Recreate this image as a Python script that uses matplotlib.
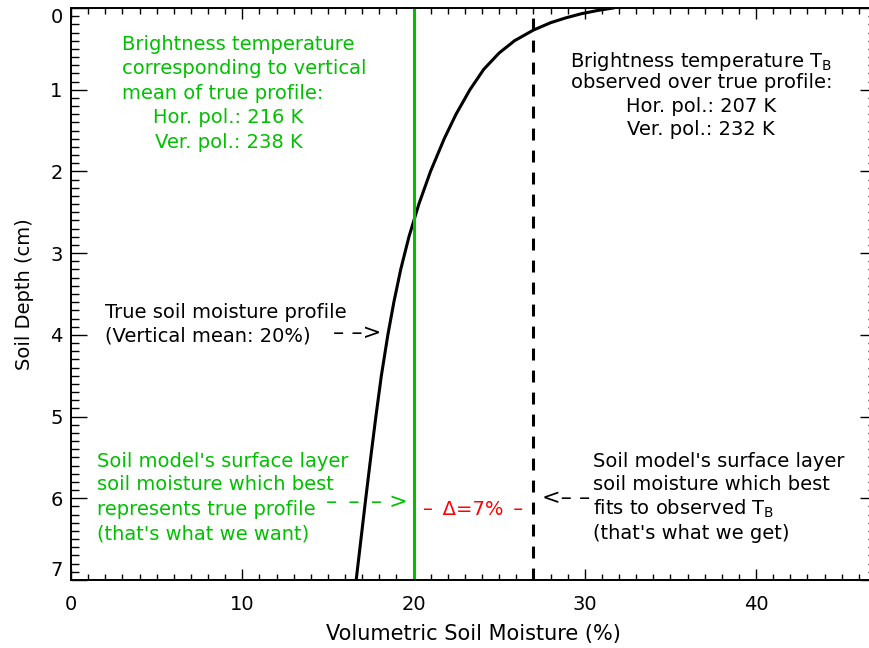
import matplotlib.pyplot as plt
from matplotlib.ticker import MultipleLocator

# true soil moisture profile (depth in cm, volumetric moisture in %)
depth = [0.0, 0.03, 0.07, 0.12, 0.18, 0.27, 0.4, 0.55, 0.75, 1.0, 1.3, 1.6,
         2.0, 2.4, 2.8, 3.2, 3.6, 4.0, 4.5, 5.0, 5.5, 6.0, 6.5, 7.0]
moisture = [31.65, 30.75, 29.8, 28.9, 28.0, 27.0, 25.9, 25.0, 24.1, 23.29, 22.48, 21.79,
            20.99, 20.31, 19.73, 19.25, 18.85, 18.5, 18.12, 17.8, 17.5, 17.21, 16.93, 16.65]

mean_moisture = 20      # vertical mean of the true profile
fitted_moisture = 27    # surface layer value that fits the observed TB
tb_mean = [216, 238]    # H / V pol. brightness temperature for the mean
tb_obs = [207, 232]     # H / V pol. observed over the true profile

x_ticks = [0, 10, 20, 30, 40]
y_ticks = [0, 1, 2, 3, 4, 5, 6, 7]

GREEN = '#00c000'
FS = 14

fig = plt.figure(figsize=(8.69, 6.48), dpi=100)
ax = fig.add_axes([71 / 869, 68 / 648, 805 / 869, 572 / 648])

ax.plot(moisture, depth, color='black', lw=2.2, solid_joinstyle='round')
ax.axvline(mean_moisture, color=GREEN, lw=2.2)
ax.axvline(fitted_moisture, color='black', lw=2.2, dashes=(3.9, 3.3))

ax.set_xlim(0, 47)
ax.set_ylim(7, 0)
ax.set_xticks(x_ticks)
ax.set_yticks(y_ticks)
ax.xaxis.set_minor_locator(MultipleLocator(1))
ax.yaxis.set_minor_locator(MultipleLocator(0.1))
ax.tick_params(which='both', direction='in', top=True, right=True, width=1.0,
               labelsize=FS)
ax.tick_params(axis='x', which='major', length=7.9, pad=11)
ax.tick_params(axis='x', which='minor', length=4.0)
ax.tick_params(axis='y', which='major', length=11.5, pad=6)
ax.tick_params(axis='y', which='minor', length=5.8)
for s in ax.spines.values():
    s.set_linewidth(1.4)

ylabels = ax.get_yticklabels()
ylabels[0].set_va('top')
ylabels[-1].set_va('bottom')

ax.set_xlabel('Volumetric Soil Moisture (%)', fontsize=15, labelpad=7)
ax.set_ylabel('Soil Depth (cm)', fontsize=14, labelpad=12)

# green: TB of the vertical mean
for txt, yy in zip(['Brightness temperature', 'corresponding to vertical',
                    'mean of true profile:'], [0.508, 0.808, 1.11]):
    ax.text(3.0, yy, txt, color=GREEN, fontsize=FS, va='baseline', ha='left')
ax.text(9.2, 1.411, 'Hor. pol.: %d K' % tb_mean[0], color=GREEN, fontsize=FS,
        va='baseline', ha='center')
ax.text(9.2, 1.71, 'Ver. pol.: %d K' % tb_mean[1], color=GREEN, fontsize=FS,
        va='baseline', ha='center')

# black: observed TB
obs_lines = [r'Brightness temperature T$_\mathregular{B}$',
             'observed over true profile:',
             'Hor. pol.: %d K' % tb_obs[0],
             'Ver. pol.: %d K' % tb_obs[1]]
for txt, yy in zip(obs_lines, [0.718, 0.975, 1.269, 1.554]):
    ax.text(36.8, yy, txt, color='black', fontsize=FS, va='baseline', ha='center')

# profile label
ax.text(2.0, 3.797, 'True soil moisture profile', fontsize=FS, va='baseline')
ax.text(2.0, 4.084, '(Vertical mean: %d%%)' % mean_moisture, fontsize=FS,
        va='baseline')
ax.text(15.3, 3.975, '\u2013 \u2013>', fontsize=16, va='center', ha='left')

# surface layer annotations
want = ["Soil model's surface layer", 'soil moisture which best',
        'represents true profile', "(that's what we want)"]
get = ["Soil model's surface layer", 'soil moisture which best',
       r'fits to observed T$_\mathregular{B}$', "(that's what we get)"]
for i, yy in enumerate([5.614, 5.899, 6.205, 6.502]):
    ax.text(1.5, yy, want[i], color=GREEN, fontsize=FS, va='baseline')
    ax.text(30.49, yy, get[i], color='black', fontsize=FS, va='baseline')

ax.text(19.65, 6.04, '\u2013\u2002\u2013\u2002\u2013 >', color=GREEN,
        fontsize=16, va='center', ha='right')
ax.text(27.5, 6.0, '<\u2013 \u2013', color='black', fontsize=16,
        va='center', ha='left')

delta = fitted_moisture - mean_moisture
ax.text((mean_moisture + fitted_moisture) / 2, 6.205,
        '\u2013\u2002\u0394=%d%%\u2002\u2013' % delta, color='red', fontsize=FS,
        va='baseline', ha='center')

fig.savefig('out.png', dpi=100)
